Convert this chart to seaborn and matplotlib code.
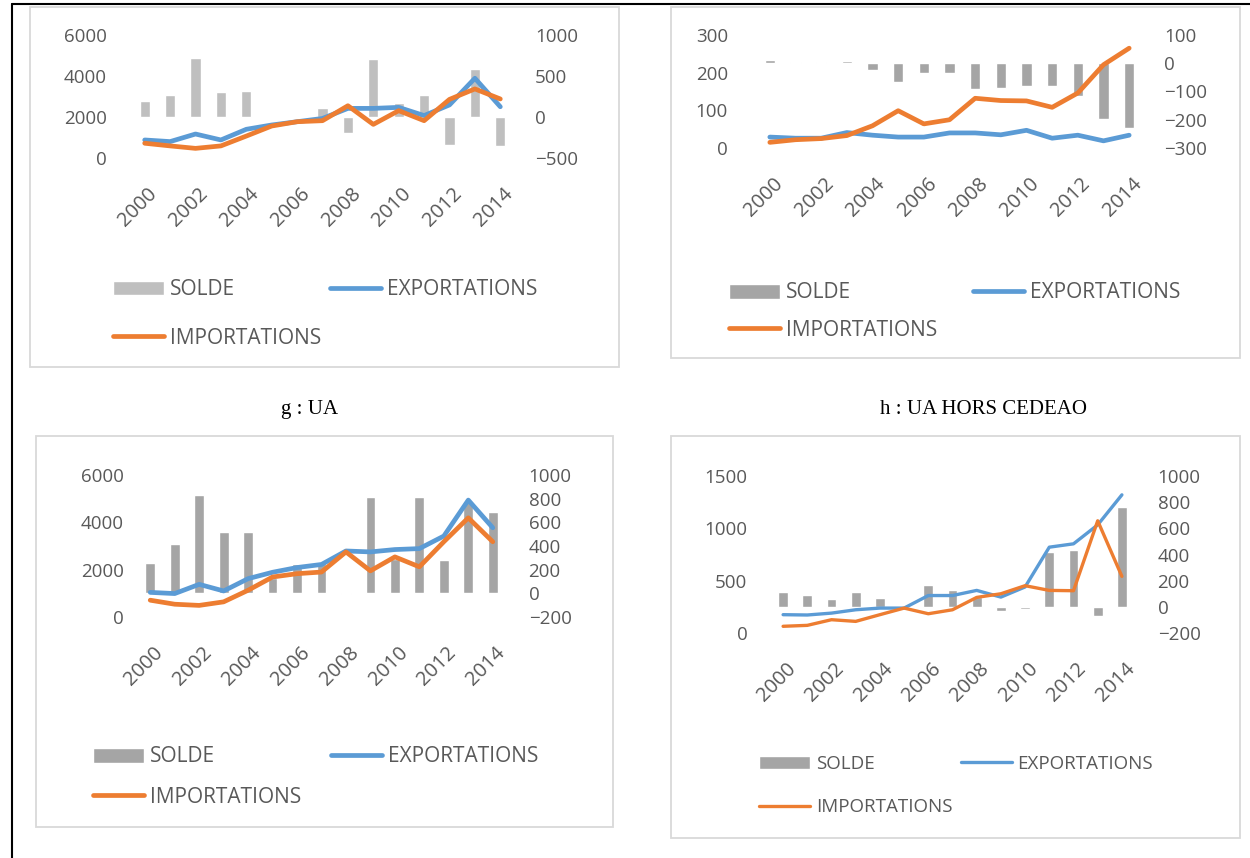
import matplotlib
matplotlib.use("Agg")
import matplotlib.pyplot as plt
import matplotlib.transforms as mtransforms
from matplotlib.lines import Line2D
from matplotlib.patches import Rectangle
from matplotlib.ticker import FixedLocator
import seaborn as sns

sns.set_theme(style="white")
plt.rcParams["font.family"] = ["Open Sans", "DejaVu Sans"]

# data
years = list(range(2000, 2015))
year_ticks = years[::2]

solde_1 = [190, 265, 725, 300, 315, 5, 5, 115, -200, 705, 175, 265, -340, 580, -355]
exp_1 = [880, 800, 1170, 880, 1400, 1610, 1770, 1930, 2420, 2420, 2470, 2070, 2590, 3890, 2500]
imp_1 = [720, 590, 470, 590, 1070, 1560, 1770, 1820, 2550, 1640, 2310, 1820, 2860, 3370, 2880]

solde_2 = [12, 4, 4, 7, -24, -65, -33, -33, -92, -88, -79, -79, -115, -196, -229]
exp_2 = [29, 26, 26, 41, 34, 29, 29, 40, 40, 35, 47, 26, 34, 19, 34]
imp_2 = [15, 22, 25, 33, 59, 99, 64, 75, 132, 126, 125, 108, 146, 221, 265]

solde_3 = [260, 415, 835, 520, 520, 130, 250, 260, -8, 815, 290, 815, 280, 775, 690]
exp_3 = [1040, 990, 1380, 1100, 1620, 1890, 2090, 2220, 2790, 2750, 2850, 2890, 3420, 4940, 3770]
imp_3 = [710, 540, 490, 640, 1130, 1690, 1830, 1900, 2750, 1950, 2540, 2120, 3180, 4190, 3180]

solde_4 = [110, 90, 58, 110, 70, 5, 165, 127, 72, -30, -18, 420, 432, -69, 762]
exp_4 = [175, 172, 190, 222, 238, 238, 358, 358, 407, 343, 440, 820, 852, 1033, 1320]
imp_4 = [64, 73, 127, 111, 175, 238, 184, 222, 340, 375, 452, 407, 404, 1072, 541]

titles = ["g : UA", "h : UA HORS CEDEAO"]

BLUE = "#5B9BD5"
ORANGE = "#ED7D31"
TXT = "#595959"
GRID = "#D9D9D9"

W, H = 1250, 858
fig = plt.figure(figsize=(W / 100, H / 100), dpi=100)


def fig_box(x0, y0, x1, y1):
    return [x0 / W, 1 - y1 / H, (x1 - x0) / W, (y1 - y0) / H]


panels = [
    dict(solde=solde_1, exp=exp_1, imp=imp_1, frame=(30, 7, 619, 367), plot=(132, 35, 513, 158),
         ylim=(0, 6000), yticks=[0, 2000, 4000, 6000], y2lim=(-500, 1000),
         y2ticks=[-500, 0, 500, 1000], grid=[-500, 0, 500, 1000], bar="#BFBFBF", lw=3.4,
         pads=(18, 16), leg=(113, 279.5), fs=15, hl=2.45, hp=0.29, cs=0.43, ls=1.31),
    dict(solde=solde_2, exp=exp_2, imp=imp_2, frame=(671, 7, 1240, 358), plot=(757, 35, 1142, 148),
         ylim=(0, 300), yticks=[0, 100, 200, 300], y2lim=(-300, 100),
         y2ticks=[-300, -200, -100, 0, 100], grid=[-300, -200, -100, 0, 100], bar="#A5A5A5", lw=3.4,
         pads=(21, 16), leg=(729, 282.5), fs=15, hl=2.45, hp=0.29, cs=1.73, ls=0.78),
    dict(solde=solde_3, exp=exp_3, imp=imp_3, frame=(36, 436, 613, 827), plot=(138, 475, 505, 617),
         ylim=(0, 6000), yticks=[0, 2000, 4000, 6000], y2lim=(-200, 1000),
         y2ticks=list(range(-200, 1001, 200)), grid=[-200, 200, 600, 1000], bar="#A5A5A5", lw=3.4,
         pads=(10, 17), leg=(93, 746.5), fs=15, hl=2.45, hp=0.29, cs=1.4, ls=0.92),
    dict(solde=solde_4, exp=exp_4, imp=imp_4, frame=(671, 436, 1240, 838), plot=(771, 476, 1134, 633),
         ylim=(0, 1500), yticks=[0, 500, 1000, 1500], y2lim=(-200, 1000),
         y2ticks=list(range(-200, 1001, 200)), grid=[-200, 200, 600, 1000], bar="#A5A5A5", lw=2.4,
         pads=(17, 17), leg=(759, 755), fs=13.5, hl=2.72, hp=0.32, cs=0.43, ls=1.35),
]

for p in panels:
    x0, y0, x1, y1 = p["frame"]
    fig.add_artist(Rectangle((x0 / W, 1 - y1 / H), (x1 - x0) / W, (y1 - y0) / H,
                             transform=fig.transFigure, fill=False, edgecolor=GRID, lw=1.3))

    ax = fig.add_axes(fig_box(*p["plot"]))
    ax2 = ax.twinx()
    ax.set_zorder(2)
    ax2.set_zorder(1)
    ax.patch.set_visible(False)

    sns.barplot(x=years, y=p["solde"], ax=ax2, native_scale=True, width=0.4,
                color=p["bar"], saturation=1, label="SOLDE", legend=False)
    sns.lineplot(x=years, y=p["exp"], ax=ax, color=BLUE, lw=p["lw"], label="EXPORTATIONS",
                 legend=False, solid_joinstyle="round", solid_capstyle="round")
    sns.lineplot(x=years, y=p["imp"], ax=ax, color=ORANGE, lw=p["lw"], label="IMPORTATIONS",
                 legend=False, solid_joinstyle="round", solid_capstyle="round")

    ax.set_xlim(1999.5, 2014.5)
    ax.set_ylim(*p["ylim"])
    ax.set_yticks(p["yticks"])
    ax2.set_ylim(*p["y2lim"])
    ax2.set_yticks(p["y2ticks"])
    ax2.yaxis.set_minor_locator(FixedLocator(p["grid"]))
    ax2.set_axisbelow(True)
    ax2.grid(False)
    ax2.grid(which="minor", axis="y", color=GRID, lw=1.1)
    ax.grid(False)
    for a in (ax, ax2):
        a.set_xlabel("")
        a.set_ylabel("")
        for s in a.spines.values():
            s.set_visible(False)

    ax.tick_params(axis="y", length=0, pad=p["pads"][0], labelsize=13.5, labelcolor=TXT)
    ax2.tick_params(axis="y", which="both", length=0, pad=p["pads"][1], labelsize=13.5, labelcolor=TXT)
    ax.set_xticks(year_ticks)
    ax.set_xticklabels([str(y) for y in year_ticks])
    ax.tick_params(axis="x", length=0, pad=24, labelsize=14.5, labelcolor=TXT)
    shift = mtransforms.ScaledTranslation(7 / 72, 0, fig.dpi_scale_trans)
    for lbl in ax.get_xticklabels():
        lbl.set_rotation(45)
        lbl.set_ha("right")
        lbl.set_va("center")
        lbl.set_rotation_mode("anchor")
        lbl.set_transform(lbl.get_transform() + shift)

    h_bar, l_bar = ax2.get_legend_handles_labels()
    h_ln, l_ln = ax.get_legend_handles_labels()
    handles = [h_bar[0], h_ln[1], h_ln[0]]
    labels = ["SOLDE", "IMPORTATIONS", "EXPORTATIONS"]
    lx, ly = p["leg"]
    fig.legend(handles, labels, loc="upper left", bbox_to_anchor=(lx / W, 1 - ly / H), ncol=2,
               frameon=False, borderpad=0, borderaxespad=0, handlelength=p["hl"],
               handletextpad=p["hp"], columnspacing=p["cs"], labelspacing=p["ls"],
               prop=dict(size=p["fs"]), labelcolor=TXT)

fig.text(310 / W, 1 - 410 / H, titles[0], ha="center", va="center", fontsize=15,
         family="Liberation Serif", color="black")
fig.text(983 / W, 1 - 410 / H, titles[1], ha="center", va="center", fontsize=15,
         family="Liberation Serif", color="black")

# black frame on the left and top
fig.add_artist(Line2D([12 / W, 12 / W], [0, 1 - 4 / H], color="black", lw=1.5, transform=fig.transFigure))
fig.add_artist(Line2D([12 / W, 1], [1 - 4 / H, 1 - 4 / H], color="black", lw=1.5, transform=fig.transFigure))

fig.savefig("out.png", dpi=100)
